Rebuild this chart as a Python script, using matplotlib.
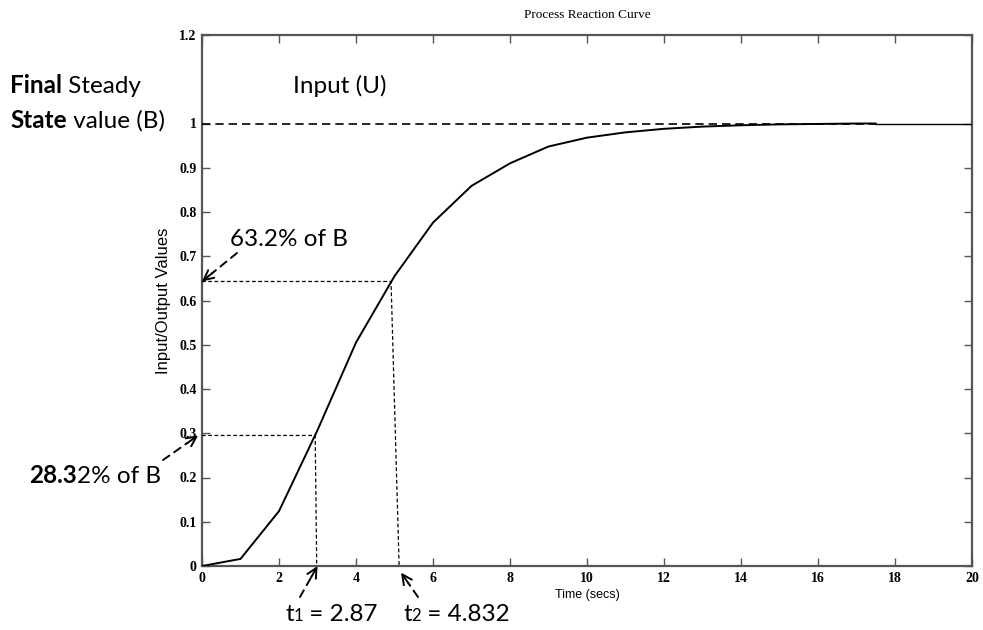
import matplotlib
matplotlib.use("Agg")
import matplotlib.pyplot as plt
import numpy as np

# ---------------- data ----------------
time_s = [0, 1, 2, 3, 4, 5, 6, 7, 8, 9, 10, 11, 12, 13, 14, 15, 16, 17, 17.5]
output_v = [0, 0.016, 0.124, 0.307, 0.505, 0.655, 0.776, 0.859, 0.910, 0.948,
            0.968, 0.980, 0.988, 0.993, 0.996, 0.998, 0.999, 1.0, 1.0]
input_t = [0, 17.5, 20]
input_v = [1.0, 1.0, 1.0]
ref63_x = [0, 4.91, 5.12]
ref63_y = [0.643, 0.643, 0.0]
ref28_x = [0, 2.94, 2.98]
ref28_y = [0.295, 0.295, 0.0]
x_ticks = [0, 2, 4, 6, 8, 10, 12, 14, 16, 18, 20]
y_ticks = [0, 0.1, 0.2, 0.3, 0.4, 0.5, 0.6, 0.7, 0.8, 0.9, 1, 1.2]
y_ticklabels = ["0", "0.1", "0.2", "0.3", "0.4", "0.5", "0.6", "0.7", "0.8", "0.9", "1", "1.2"]

W, H = 983, 630
fig = plt.figure(figsize=(W / 100, H / 100), dpi=100)
ax_left, ax_right, ax_top, ax_bottom = 202, 972, 35, 566
ax = fig.add_axes([ax_left / W, 1 - ax_bottom / H, (ax_right - ax_left) / W, (ax_bottom - ax_top) / H])

ax.plot(time_s, output_v, color="black", lw=1.4, zorder=4)
ax.plot(input_t[:2], input_v[:2], color="black", lw=1.2, ls=(0, (5, 3)), zorder=3)
ax.plot(input_t[1:], input_v[1:], color="black", lw=1.0, zorder=3)
ax.plot(ref63_x, ref63_y, color="black", lw=0.9, ls=(0, (3, 2)), zorder=3)
ax.plot(ref28_x, ref28_y, color="black", lw=0.9, ls=(0, (3, 2)), zorder=3)

ax.set_xlim(0, 20)
ax.set_ylim(0, 1.2)
ax.set_xticks(x_ticks)
ax.set_yticks(y_ticks)
ax.set_yticks([1.1], minor=True)
ax.set_yticklabels(y_ticklabels)
ax.tick_params(which="both", direction="in", top=True, right=True, length=6, width=1.0,
               color="#555555", pad=4)
ax.tick_params(which="minor", length=0)
for lab in ax.get_xticklabels() + ax.get_yticklabels():
    lab.set_fontfamily("Liberation Serif")
    lab.set_fontsize(10)
    lab.set_fontweight("bold")
for sp in ax.spines.values():
    sp.set_color("#555555")
    sp.set_linewidth(1.6)

ax.set_title("Process Reaction Curve", family="Liberation Serif", fontsize=9.5, pad=12)
ax.set_xlabel("Time (secs)", family="Liberation Sans", fontsize=9, labelpad=3)
ax.set_ylabel("Input/Output Values", family="Liberation Sans", fontsize=12, labelpad=6)

renderer = fig.canvas.get_renderer()
FONT = "Lato"


def rich_text(x, y, parts, size=17.5):
    """x, y in figure pixels from top-left; parts: (text, weight, size_or_None, dy)"""
    cur = x
    for s, w, sz, dy in parts:
        t = fig.text(cur / W, 1 - (y + dy) / H, s, family=FONT, fontweight=w,
                     fontsize=sz or size, va="baseline", ha="left")
        cur += t.get_window_extent(renderer).width


def dashed_arrow(head_data, tail_px):
    hx, hy = ax.transData.transform(head_data)
    tx, ty = tail_px[0], H - tail_px[1]
    v = np.array([tx - hx, ty - hy])
    v = v / np.hypot(*v)
    mid = (hx + v[0] * 13, hy + v[1] * 13)
    ax.annotate("", xy=mid, xycoords="figure pixels", xytext=(tx, ty), textcoords="figure pixels",
                arrowprops=dict(arrowstyle="-", lw=1.4, ls=(0, (4, 3)), color="black",
                                shrinkA=0, shrinkB=0), annotation_clip=False)
    ax.annotate("", xy=(hx, hy), xycoords="figure pixels", xytext=mid, textcoords="figure pixels",
                arrowprops=dict(arrowstyle="->,head_length=0.7,head_width=0.35", lw=1.4,
                                color="black", shrinkA=0, shrinkB=0), annotation_clip=False)


rich_text(10, 93, [("Final", "bold", None, 0), (" Steady", "normal", None, 0)])
rich_text(10, 128, [("State", "bold", None, 0), (" value (B)", "normal", None, 0)])
rich_text(293, 93, [("Input (U)", "normal", None, 0)])
rich_text(230, 246, [("63.2% of B", "normal", None, 0)])
rich_text(29, 483, [("28.3", "bold", None, 0), ("2% of B", "normal", None, 0)])
rich_text(285, 621, [("t", "normal", None, 0), ("1", "normal", 12, 0), (" = 2.87", "normal", None, 0)])
rich_text(403, 621, [("t", "normal", None, 0), ("2", "normal", 12, 0), (" = 4.832", "normal", None, 0)])

dashed_arrow((0, 0.643), (237, 253))
dashed_arrow((-0.1, 0.295), (163, 460))
dashed_arrow((3.0, 0.0), (300, 597))
dashed_arrow((5.17, -0.015), (418, 597))

fig.savefig("out.png", dpi=100)
